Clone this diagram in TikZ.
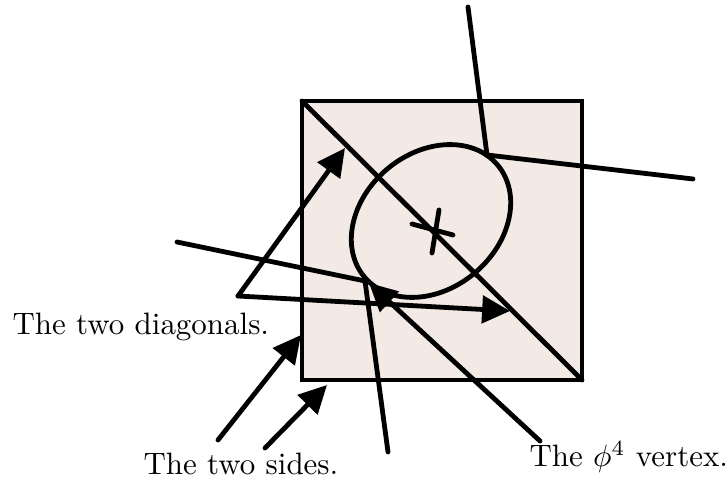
\documentclass[tikz,border=0pt]{standalone}
\usepackage{amsmath,amssymb}
\usepackage{xcolor}
\usepackage{tikz}
\usetikzlibrary{positioning,arrows.meta,shapes.geometric,calc}
\definecolor{paper}{RGB}{243,234,229}
\tikzset{
  edge/.style    ={line width=1.55pt, line cap=round},
  box/.style     ={draw, fill=paper, line width=1.55pt, line join=miter},
  loopnode/.style={draw, ellipse, line width=1.55pt, inner sep=0pt, minimum width=56.2pt, minimum height=43.9pt},
  pointer/.style ={-{Triangle[length=9pt,width=8.8pt]}, line width=1.55pt, line cap=round},
  lbl/.style     ={inner sep=0pt, anchor=base west, font=\normalsize},
}

\begin{document}
\begin{tikzpicture}[x=0.323pt, y=-0.323pt]
\useasboundingbox (0,0) rectangle (726,488);
% square with its diagonal
\coordinate (tl) at (302,101);
\coordinate (br) at (582,380);
\draw[box] (tl) rectangle (br);
\draw[edge] (tl) -- (br);
% the loop and the vertex cross
\node[loopnode, rotate=40] (loop) at (431,221) {};
\coordinate (cx) at (433,232);
\draw[edge] ($(cx)+(-21,-8)$) -- ($(cx)+(20,3)$);
\draw[edge] ($(cx)+(6,-22)$) -- ($(cx)+(-1,21)$);
% external legs
\coordinate (va) at (487,155);
\coordinate (vb) at (365,281);
\coordinate (lt) at (468,7);
\coordinate (lr) at (693,179);
\coordinate (ll) at (177,242);
\coordinate (lb) at (388,452);
\draw[edge] (lt) -- (va) -- (lr);
\draw[edge] (ll) -- (vb) -- (lb);
% labels
\node[lbl] (tdiag) at (12,335) {The two diagonals.};
\node[lbl] (tside) at (143,475) {The two sides.};
\node[lbl] (tvert) at (529,467) {The $\phi^4$ vertex.};
% pointers
\coordinate (dfoot) at (238,296);
\coordinate (d1) at (345,148);
\coordinate (d2) at (510,311);
\draw[pointer] (dfoot) -- (d1);
\draw[pointer] (dfoot) -- (d2);
\coordinate (s1a) at (218,440);
\coordinate (s1b) at (301,335);
\coordinate (s2a) at (265,448);
\coordinate (s2b) at (327,385);
\draw[pointer] (s1a) -- (s1b);
\draw[pointer] (s2a) -- (s2b);
\coordinate (vfoot) at (540,441);
\coordinate (vtip) at (369,283);
\draw[pointer] (vfoot) -- (vtip);
\end{tikzpicture}
\end{document}
